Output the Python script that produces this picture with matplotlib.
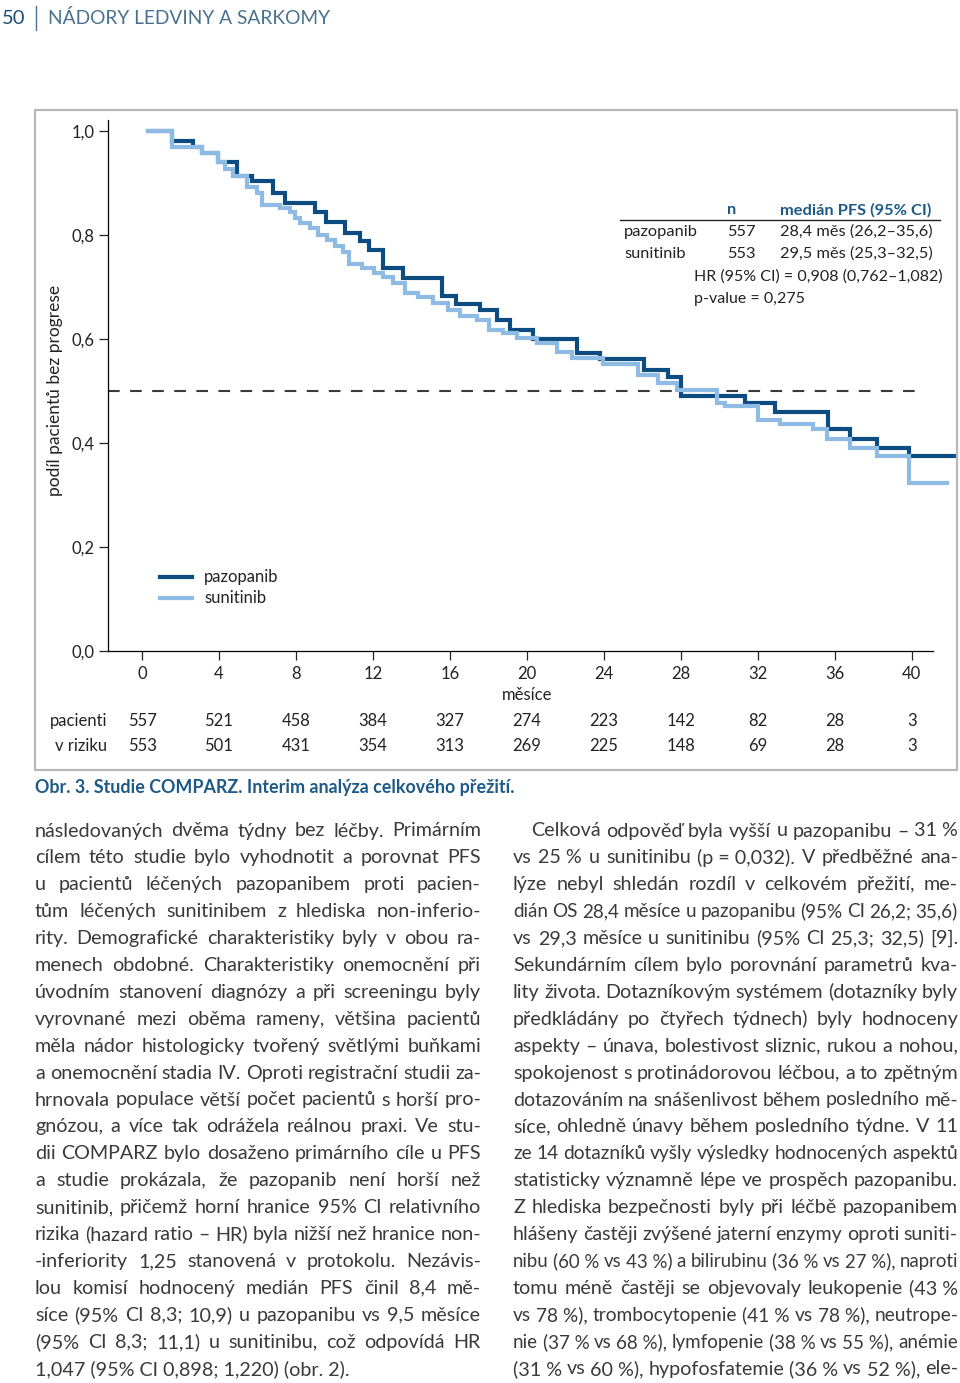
import matplotlib
matplotlib.use('Agg')
import matplotlib.pyplot as plt
import matplotlib.transforms as mtransforms
from matplotlib.patches import Rectangle
from matplotlib.lines import Line2D

plt.rcParams['font.family'] = ['Lato', 'DejaVu Sans']

W, H = 960, 1383

# --- data ---
months = [0, 4, 8, 12, 16, 20, 24, 28, 32, 36, 40]
risk_pazopanib = [557, 521, 458, 384, 327, 274, 223, 142, 82, 28, 3]
risk_sunitinib = [553, 501, 431, 354, 313, 269, 225, 148, 69, 28, 3]
yticks = [0.0, 0.2, 0.4, 0.6, 0.8, 1.0]

pazopanib_t = [0.31, 1.54, 2.63, 3.12, 3.95, 4.92, 5.70, 6.82, 7.43, 8.97,
               9.58, 10.57, 11.32, 11.79, 12.54, 13.54, 15.56, 16.29, 17.56, 18.44,
               19.10, 20.31, 22.61, 23.79, 26.06, 27.34, 28.0, 31.32, 32.88, 35.65,
               36.78, 38.17, 39.83, 42.32]
pazopanib_s = [1.0, 0.981, 0.969, 0.958, 0.941, 0.913, 0.903, 0.880, 0.861, 0.845,
               0.824, 0.803, 0.788, 0.771, 0.736, 0.717, 0.682, 0.668, 0.655, 0.637,
               0.617, 0.599, 0.573, 0.561, 0.540, 0.526, 0.490, 0.476, 0.460, 0.426,
               0.408, 0.390, 0.374, 0.374]

sunitinib_t = [0.31, 1.54, 3.12, 3.96, 4.31, 4.74, 5.44, 5.96, 6.22, 7.17,
               7.69, 7.95, 8.21, 8.73, 9.14, 9.59, 10.03, 10.46, 10.75, 11.43,
               12.05, 12.52, 13.05, 13.66, 14.35, 15.13, 15.91, 16.52, 17.43, 18.03,
               18.77, 19.48, 20.52, 21.54, 22.32, 23.96, 25.77, 26.81, 27.78, 29.85,
               30.29, 32.02, 33.14, 34.87, 35.57, 36.78, 38.17, 39.83, 41.84]
sunitinib_s = [1.0, 0.969, 0.957, 0.941, 0.927, 0.913, 0.892, 0.880, 0.858, 0.851,
               0.845, 0.833, 0.822, 0.813, 0.800, 0.790, 0.779, 0.768, 0.745, 0.736,
               0.726, 0.720, 0.707, 0.688, 0.681, 0.670, 0.656, 0.644, 0.637, 0.618,
               0.612, 0.602, 0.592, 0.574, 0.563, 0.552, 0.531, 0.515, 0.502, 0.477,
               0.472, 0.444, 0.437, 0.426, 0.408, 0.390, 0.374, 0.323, 0.323]

median_level = 0.5

stats_rows = [('pazopanib', '557', '28,4 měs (26,2–35,6)'),
              ('sunitinib', '553', '29,5 měs (25,3–32,5)')]
hr_text = 'HR (95% CI) = 0,908 (0,762–1,082)'
p_text = 'p-value = 0,275'

NB = '\u00a0'
left_col = [
    'následovaných dvěma týdny bez léčby. Primárním',
    'cílem této studie bylo vyhodnotit a porovnat PFS',
    'u pacientů léčených pazopanibem proti pacien-',
    'tům léčených sunitinibem z hlediska non-inferio-',
    'rity. Demografické charakteristiky byly v obou ra-',
    'menech obdobné. Charakteristiky onemocnění při',
    'úvodním stanovení diagnózy a při screeningu byly',
    'vyrovnané mezi oběma rameny, většina pacientů',
    'měla nádor histologicky tvořený světlými buňkami',
    'a onemocnění stadia IV. Oproti registrační studii za-',
    'hrnovala populace větší počet pacientů s horší pro-',
    'gnózou, a více tak odrážela reálnou praxi. Ve stu-',
    'dii COMPARZ bylo dosaženo primárního cíle u PFS',
    'a studie prokázala, že pazopanib není horší než',
    'sunitinib, přičemž horní hranice 95% CI relativního',
    'rizika (hazard ratio – HR) byla nižší než hranice non-',
    '-inferiority 1,25 stanovená v protokolu. Nezávis-',
    'lou komisí hodnocený medián PFS činil 8,4 mě-',
    'síce (95% CI 8,3; 10,9) u pazopanibu vs 9,5 měsíce',
    '(95% CI 8,3; 11,1) u sunitinibu, což odpovídá HR',
    '1,047 (95% CI 0,898; 1,220) (obr. 2).',
]
right_col = [
    f'Celková odpověď byla vyšší u pazopanibu – 31{NB}%',
    f'vs 25{NB}% u sunitinibu (p{NB}={NB}0,032). V předběžné ana-',
    'lýze nebyl shledán rozdíl v celkovém přežití, me-',
    'dián OS 28,4 měsíce u pazopanibu (95% CI 26,2; 35,6)',
    'vs 29,3 měsíce u sunitinibu (95% CI 25,3; 32,5) [9].',
    'Sekundárním cílem bylo porovnání parametrů kva-',
    'lity života. Dotazníkovým systémem (dotazníky byly',
    'předkládány po čtyřech týdnech) byly hodnoceny',
    'aspekty – únava, bolestivost sliznic, rukou a nohou,',
    'spokojenost s protinádorovou léčbou, a to zpětným',
    'dotazováním na snášenlivost během posledního mě-',
    'síce, ohledně únavy během posledního týdne. V 11',
    'ze 14 dotazníků vyšly výsledky hodnocených aspektů',
    'statisticky významně lépe ve prospěch pazopanibu.',
    'Z hlediska bezpečnosti byly při léčbě pazopanibem',
    'hlášeny častěji zvýšené jaterní enzymy oproti suniti-',
    f'nibu (60{NB}% vs 43{NB}%) a bilirubinu (36{NB}% vs 27{NB}%), naproti',
    f'tomu méně častěji se objevovaly leukopenie (43{NB}%',
    f'vs 78{NB}%), trombocytopenie (41{NB}% vs 78{NB}%), neutrope-',
    f'nie (37{NB}% vs 68{NB}%), lymfopenie (38{NB}% vs 55{NB}%), anémie',
    f'(31{NB}% vs 60{NB}%), hypofosfatemie (36{NB}% vs 52{NB}%), ele-',
]

DARK = '#0d4c80'
LIGHT = '#8dbbe3'
BLUE_TXT = '#1d5a88'
INK = '#222222'


def px(x):
    return x / W


def py(y):
    return 1 - y / H


fig = plt.figure(figsize=(W / 100, H / 100), dpi=100)
fig.patch.set_facecolor('white')

# page header
fig.text(px(2), py(18), '50', fontsize=14.5, color='#1c4f78', va='center')
fig.add_artist(Line2D([px(36), px(36)], [py(6), py(30)], color='#4a7191', lw=1))
fig.text(px(48), py(18), 'NÁDORY LEDVINY A SARKOMY', fontsize=13.8, color='#4a7191', va='center')

# frame round the figure
fig.add_artist(Rectangle((px(35), py(770)), px(957) - px(35), py(110) - py(770),
                         transform=fig.transFigure, fill=False, ec='#b8b8b8', lw=1.6))

# KM plot
ax = fig.add_axes([px(108), py(651), (933 - 108) / W, (651 - 120) / H])
ax.set_xlim(-1.77, 41.1)
ax.set_ylim(0, 1.021)
for s in ['top', 'right']:
    ax.spines[s].set_visible(False)
for s in ['left', 'bottom']:
    ax.spines[s].set_linewidth(0.9)
ax.set_xticks(months)
ax.set_xticklabels([str(m) for m in months])
ax.set_yticks(yticks)
ax.set_yticklabels([f'{v:.1f}'.replace('.', ',') for v in yticks])
ax.tick_params(length=6.5, width=0.9, labelsize=12, pad=3, colors=INK)
ax.tick_params(axis='x', pad=4)

ax.plot([-1.77, 40.7], [median_level, median_level], color='#3a3a3a', lw=1.5,
        ls=(0, (5.6, 5.0)))
ax.step(pazopanib_t, pazopanib_s, where='post', color=DARK, lw=3, clip_on=False,
        solid_joinstyle='miter', zorder=3)
ax.step(sunitinib_t, sunitinib_s, where='post', color=LIGHT, lw=3, clip_on=False,
        solid_joinstyle='miter', zorder=4)

fig.text(px(55), py(390), 'podíl pacientů bez progrese', rotation=90, fontsize=12.5,
         color=INK, ha='center', va='center')
fig.text(px(527), py(695), 'měsíce', fontsize=12, color=INK, ha='center', va='center')

# numbers at risk
blend = mtransforms.blended_transform_factory(ax.transData, fig.transFigure)
fig.text(px(107), py(721), 'pacienti', fontsize=12, ha='right', va='center', color=INK)
fig.text(px(107), py(746), 'v riziku', fontsize=12, ha='right', va='center', color=INK)
for m, a, b in zip(months, risk_pazopanib, risk_sunitinib):
    ax.text(m, py(721), str(a), transform=blend, fontsize=12, ha='center', va='center', color=INK)
    ax.text(m, py(746), str(b), transform=blend, fontsize=12, ha='center', va='center', color=INK)

# legend
fig.add_artist(Line2D([px(160), px(192)], [py(577), py(577)], color=DARK, lw=3))
fig.add_artist(Line2D([px(160), px(192)], [py(598), py(598)], color=LIGHT, lw=3))
fig.text(px(204), py(577), 'pazopanib', fontsize=12, va='center', color=INK)
fig.text(px(204), py(598), 'sunitinib', fontsize=12, va='center', color=INK)

# stats box top right
fig.text(px(727), py(210), 'n', fontsize=11.8, va='center', color=BLUE_TXT, fontweight='bold')
fig.text(px(780), py(210), 'medián PFS (95% CI)', fontsize=11.8, va='center', color=BLUE_TXT,
         fontweight='bold')
fig.add_artist(Line2D([px(620), px(940)], [py(220), py(220)], color=INK, lw=1))
for i, (name, n, med) in enumerate(stats_rows):
    yy = 232 + i * 22
    fig.text(px(624), py(yy), name, fontsize=11.8, va='center', color=INK)
    fig.text(px(727), py(yy), n, fontsize=11.8, va='center', color=INK)
    fig.text(px(780), py(yy), med, fontsize=11.8, va='center', color=INK)
fig.text(px(694), py(277), hr_text, fontsize=11.5, va='center', color=INK)
fig.text(px(694), py(299), p_text, fontsize=11.5, va='center', color=INK)

# caption
fig.text(px(35), py(787), 'Obr. 3. Studie COMPARZ. Interim analýza celkového přežití.',
         fontsize=12.9, fontweight='bold', color=BLUE_TXT, va='center')

# body text, justified by hand
renderer = fig.canvas.get_renderer()
BODY_SIZE = 14.2
MIN_GAP = 4.5


def set_column(lines, x0, x1, y0, dy, indent=0, last_ragged=True):
    for i, line in enumerate(lines):
        y = y0 + i * dy
        left = x0 + (indent if i == 0 else 0)
        words = line.split(' ')
        if last_ragged and i == len(lines) - 1:
            fig.text(px(left), py(y), line, fontsize=BODY_SIZE, color='#3a3a3a', va='center')
            continue
        objs = [fig.text(px(left), py(y), w, fontsize=BODY_SIZE, color='#3a3a3a', va='center')
                for w in words]
        widths = [o.get_window_extent(renderer).width for o in objs]
        n_gaps = max(len(words) - 1, 1)
        gap = (x1 - left - sum(widths)) / n_gaps
        if gap < MIN_GAP:
            # tight line: shrink the type a little so words keep apart
            k = (x1 - left - MIN_GAP * n_gaps) / sum(widths)
            for o in objs:
                o.set_fontsize(BODY_SIZE * k)
            widths = [o.get_window_extent(renderer).width for o in objs]
            gap = (x1 - left - sum(widths)) / n_gaps
        x = left
        for o, w in zip(objs, widths):
            o.set_x(px(x))
            x += w + gap


set_column(left_col, 35, 481, 831, 26.9)
set_column(right_col, 513, 958, 831, 26.9, indent=18, last_ragged=False)

fig.savefig('out.png', dpi=100)
